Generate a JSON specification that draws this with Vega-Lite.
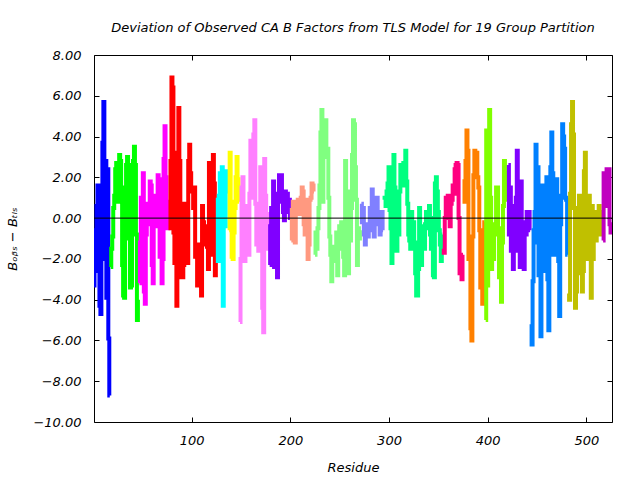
{
  "$schema": "https://vega.github.io/schema/vega-lite/v6.json",
  "width": 518,
  "height": 367,
  "autosize": {"type": "none"},
  "padding": {"left": 94, "top": 55, "right": 28, "bottom": 58},
  "background": "white",
  "config": {
    "view": {"stroke": "black", "strokeWidth": 1},
    "font": "DejaVu Sans",
    "axis": {"domain": false, "grid": false, "tickColor": "black", "tickSize": -5, "labelColor": "black", "labelFontStyle": "italic", "labelFontSize": 13, "titleFontStyle": "italic", "titleFontWeight": "normal", "titleFontSize": 13, "titleColor": "black"}
  },
  "title": {"text": "Deviation of Observed CA B Factors from TLS Model for 19 Group Partition", "fontSize": 13, "fontStyle": "italic", "fontWeight": "normal", "anchor": "middle", "offset": 14, "color": "black"},
  "datasets": {
    "pts": [
      {"r":1,"v":-3.3,"g":"g01"},{"r":2,"v":-2.6,"g":"g01"},{"r":3,"v":-0.6,"g":"g01"},{"r":4,"v":0.6,"g":"g01"},{"r":5,"v":1.6,"g":"g01"},{"r":6,"v":-1.4,"g":"g01"},{"r":7,"v":-4.3,"g":"g01"},{"r":8,"v":-4.7,"g":"g01"},{"r":9,"v":-0.4,"g":"g01"},{"r":10,"v":3.7,"g":"g01"},{"r":11,"v":5.7,"g":"g01"},{"r":12,"v":-2.0,"g":"g01"},{"r":13,"v":2.8,"g":"g01"},{"r":14,"v":-3.9,"g":"g01"},{"r":15,"v":2.4,"g":"g01"},{"r":16,"v":-5.9,"g":"g01"},{"r":17,"v":-8.7,"g":"g01"},
      {"r":18,"v":-2.4,"g":"g02"},{"r":19,"v":-1.5,"g":"g02"},{"r":20,"v":-0.9,"g":"g02"},{"r":21,"v":0.5,"g":"g02"},{"r":22,"v":1.1,"g":"g02"},{"r":23,"v":2.4,"g":"g02"},{"r":24,"v":2.7,"g":"g02"},{"r":25,"v":0.8,"g":"g02"},{"r":26,"v":2.1,"g":"g02"},{"r":27,"v":3.1,"g":"g02"},{"r":28,"v":2.8,"g":"g02"},{"r":29,"v":0.8,"g":"g02"},{"r":30,"v":-2.3,"g":"g02"},{"r":31,"v":-3.8,"g":"g02"},{"r":32,"v":-3.9,"g":"g02"},{"r":33,"v":1.5,"g":"g02"},{"r":34,"v":2.6,"g":"g02"},{"r":35,"v":3.0,"g":"g02"},{"r":36,"v":2.6,"g":"g02"},{"r":37,"v":-1.0,"g":"g02"},{"r":38,"v":-3.4,"g":"g02"},{"r":39,"v":-3.3,"g":"g02"},{"r":40,"v":-0.6,"g":"g02"},{"r":41,"v":2.8,"g":"g02"},{"r":42,"v":3.5,"g":"g02"},{"r":43,"v":2.6,"g":"g02"},{"r":44,"v":-0.8,"g":"g02"},{"r":45,"v":-5.0,"g":"g02"},{"r":46,"v":-4.0,"g":"g02"},
      {"r":47,"v":-3.2,"g":"g03"},{"r":48,"v":-1.2,"g":"g03"},{"r":49,"v":1.0,"g":"g03"},{"r":50,"v":0.9,"g":"g03"},{"r":51,"v":2.2,"g":"g03"},{"r":52,"v":-3.6,"g":"g03"},{"r":53,"v":-4.2,"g":"g03"},{"r":54,"v":-0.8,"g":"g03"},{"r":55,"v":-0.3,"g":"g03"},{"r":56,"v":0.7,"g":"g03"},{"r":57,"v":0.3,"g":"g03"},{"r":58,"v":1.8,"g":"g03"},{"r":59,"v":1.6,"g":"g03"},{"r":60,"v":-2.3,"g":"g03"},{"r":61,"v":-3.2,"g":"g03"},{"r":62,"v":-0.4,"g":"g03"},{"r":63,"v":0.6,"g":"g03"},{"r":64,"v":1.1,"g":"g03"},{"r":65,"v":-0.4,"g":"g03"},{"r":66,"v":2.1,"g":"g03"},{"r":67,"v":1.6,"g":"g03"},{"r":68,"v":-1.9,"g":"g03"},{"r":69,"v":1.9,"g":"g03"},{"r":70,"v":-3.2,"g":"g03"},{"r":71,"v":-2.0,"g":"g03"},{"r":72,"v":2.9,"g":"g03"},{"r":73,"v":4.5,"g":"g03"},{"r":74,"v":2.0,"g":"g03"},{"r":75,"v":0.8,"g":"g03"},{"r":76,"v":-0.5,"g":"g03"},{"r":77,"v":0.2,"g":"g03"},
      {"r":78,"v":2.9,"g":"g04"},{"r":79,"v":-0.5,"g":"g04"},{"r":80,"v":6.9,"g":"g04"},{"r":81,"v":6.4,"g":"g04"},{"r":82,"v":-0.7,"g":"g04"},{"r":83,"v":-2.2,"g":"g04"},{"r":84,"v":0.0,"g":"g04"},{"r":85,"v":-4.3,"g":"g04"},{"r":86,"v":3.2,"g":"g04"},{"r":87,"v":5.4,"g":"g04"},{"r":88,"v":2.8,"g":"g04"},{"r":89,"v":-1.6,"g":"g04"},{"r":90,"v":-2.9,"g":"g04"},{"r":91,"v":-2.9,"g":"g04"},{"r":92,"v":-2.3,"g":"g04"},{"r":93,"v":0.7,"g":"g04"},{"r":94,"v":-1.3,"g":"g04"},{"r":95,"v":0.5,"g":"g04"},{"r":96,"v":-2.2,"g":"g04"},{"r":97,"v":2.8,"g":"g04"},{"r":98,"v":3.6,"g":"g04"},{"r":99,"v":2.2,"g":"g04"},{"r":100,"v":1.3,"g":"g04"},{"r":101,"v":1.5,"g":"g04"},{"r":102,"v":0.5,"g":"g04"},{"r":103,"v":1.5,"g":"g04"},{"r":104,"v":-1.9,"g":"g04"},{"r":105,"v":-1.8,"g":"g04"},{"r":106,"v":-3.3,"g":"g04"},{"r":107,"v":-3.0,"g":"g04"},{"r":108,"v":-1.3,"g":"g04"},{"r":109,"v":-2.2,"g":"g04"},{"r":110,"v":-3.8,"g":"g04"},{"r":111,"v":0.6,"g":"g04"},{"r":112,"v":-0.2,"g":"g04"},{"r":113,"v":-1.3,"g":"g04"},{"r":114,"v":-0.5,"g":"g04"},{"r":115,"v":-0.4,"g":"g04"},{"r":116,"v":-1.4,"g":"g04"},{"r":117,"v":-2.5,"g":"g04"},{"r":118,"v":2.7,"g":"g04"},{"r":119,"v":2.5,"g":"g04"},{"r":120,"v":-1.8,"g":"g04"},{"r":121,"v":-0.4,"g":"g04"},{"r":122,"v":3.1,"g":"g04"},{"r":123,"v":1.7,"g":"g04"},{"r":124,"v":-2.8,"g":"g04"},{"r":125,"v":-0.5,"g":"g04"},
      {"r":126,"v":1.0,"g":"g05"},{"r":127,"v":-2.1,"g":"g05"},{"r":128,"v":1.1,"g":"g05"},{"r":129,"v":2.2,"g":"g05"},{"r":130,"v":-0.6,"g":"g05"},{"r":131,"v":2.5,"g":"g05"},{"r":132,"v":-4.3,"g":"g05"},{"r":133,"v":1.5,"g":"g05"},{"r":134,"v":-0.4,"g":"g05"},{"r":135,"v":1.3,"g":"g05"},{"r":136,"v":2.3,"g":"g05"},{"r":137,"v":1.5,"g":"g05"},
      {"r":138,"v":-0.6,"g":"g06"},{"r":139,"v":3.2,"g":"g06"},{"r":140,"v":0.8,"g":"g06"},{"r":141,"v":-1.9,"g":"g06"},{"r":142,"v":-2.0,"g":"g06"},{"r":143,"v":-0.7,"g":"g06"},{"r":144,"v":0.5,"g":"g06"},{"r":145,"v":2.0,"g":"g06"},{"r":146,"v":3.0,"g":"g06"},{"r":147,"v":1.9,"g":"g06"},{"r":148,"v":0.8,"g":"g06"},
      {"r":149,"v":-5.1,"g":"g07"},{"r":150,"v":-2.0,"g":"g07"},{"r":151,"v":1.5,"g":"g07"},{"r":152,"v":2.0,"g":"g07"},{"r":153,"v":0.4,"g":"g07"},{"r":154,"v":-2.1,"g":"g07"},{"r":155,"v":-1.8,"g":"g07"},{"r":156,"v":-1.3,"g":"g07"},{"r":157,"v":0.6,"g":"g07"},{"r":158,"v":-1.8,"g":"g07"},{"r":159,"v":1.2,"g":"g07"},{"r":160,"v":3.8,"g":"g07"},{"r":161,"v":3.8,"g":"g07"},{"r":162,"v":1.0,"g":"g07"},{"r":163,"v":4.1,"g":"g07"},{"r":164,"v":4.8,"g":"g07"},{"r":165,"v":0.7,"g":"g07"},{"r":166,"v":-1.3,"g":"g07"},{"r":167,"v":-0.8,"g":"g07"},{"r":168,"v":-1.6,"g":"g07"},{"r":169,"v":-1.0,"g":"g07"},{"r":170,"v":2.5,"g":"g07"},{"r":171,"v":-1.5,"g":"g07"},{"r":172,"v":-4.4,"g":"g07"},{"r":173,"v":-5.6,"g":"g07"},{"r":174,"v":2.9,"g":"g07"},{"r":175,"v":1.1,"g":"g07"},{"r":176,"v":-1.5,"g":"g07"},{"r":177,"v":0.2,"g":"g07"},{"r":178,"v":-0.3,"g":"g07"},
      {"r":179,"v":-2.3,"g":"g08"},{"r":180,"v":-0.4,"g":"g08"},{"r":181,"v":0.5,"g":"g08"},{"r":182,"v":-0.2,"g":"g08"},{"r":183,"v":1.8,"g":"g08"},{"r":184,"v":-2.4,"g":"g08"},{"r":185,"v":-1.6,"g":"g08"},{"r":186,"v":0.9,"g":"g08"},{"r":187,"v":-2.9,"g":"g08"},{"r":188,"v":1.2,"g":"g08"},{"r":189,"v":2.1,"g":"g08"},{"r":190,"v":1.7,"g":"g08"},{"r":191,"v":2.1,"g":"g08"},{"r":192,"v":0.8,"g":"g08"},{"r":193,"v":0.3,"g":"g08"},{"r":194,"v":-0.1,"g":"g08"},{"r":195,"v":1.3,"g":"g08"},{"r":196,"v":0.6,"g":"g08"},{"r":197,"v":1.2,"g":"g08"},{"r":198,"v":0.3,"g":"g08"},{"r":199,"v":0.9,"g":"g08"},{"r":200,"v":0.0,"g":"g08"},
      {"r":201,"v":-1.1,"g":"g09"},{"r":202,"v":0.4,"g":"g09"},{"r":203,"v":0.8,"g":"g09"},{"r":204,"v":-0.5,"g":"g09"},{"r":205,"v":-1.2,"g":"g09"},{"r":206,"v":0.2,"g":"g09"},{"r":207,"v":0.5,"g":"g09"},{"r":208,"v":0.9,"g":"g09"},{"r":209,"v":0.2,"g":"g09"},{"r":210,"v":0.6,"g":"g09"},{"r":211,"v":1.0,"g":"g09"},{"r":212,"v":1.5,"g":"g09"},{"r":213,"v":1.3,"g":"g09"},{"r":214,"v":-0.3,"g":"g09"},{"r":215,"v":-0.8,"g":"g09"},{"r":216,"v":0.9,"g":"g09"},{"r":217,"v":-0.3,"g":"g09"},{"r":218,"v":-2.0,"g":"g09"},{"r":219,"v":-1.3,"g":"g09"},{"r":220,"v":0.9,"g":"g09"},{"r":221,"v":1.0,"g":"g09"},{"r":222,"v":1.7,"g":"g09"},{"r":223,"v":1.6,"g":"g09"},{"r":224,"v":1.3,"g":"g09"},
      {"r":225,"v":-1.8,"g":"g10"},{"r":226,"v":-0.7,"g":"g10"},{"r":227,"v":-1.5,"g":"g10"},{"r":228,"v":-0.5,"g":"g10"},{"r":229,"v":0.5,"g":"g10"},{"r":230,"v":1.6,"g":"g10"},{"r":231,"v":4.2,"g":"g10"},{"r":232,"v":5.3,"g":"g10"},{"r":233,"v":0.8,"g":"g10"},{"r":234,"v":4.7,"g":"g10"},{"r":235,"v":4.3,"g":"g10"},{"r":236,"v":4.8,"g":"g10"},{"r":237,"v":3.0,"g":"g10"},{"r":238,"v":3.4,"g":"g10"},{"r":239,"v":1.0,"g":"g10"},{"r":240,"v":-0.9,"g":"g10"},{"r":241,"v":-1.8,"g":"g10"},{"r":242,"v":-3.1,"g":"g10"},{"r":243,"v":-1.9,"g":"g10"},{"r":244,"v":-2.1,"g":"g10"},{"r":245,"v":-1.4,"g":"g10"},{"r":246,"v":-2.0,"g":"g10"},{"r":247,"v":-0.7,"g":"g10"},{"r":248,"v":-2.8,"g":"g10"},{"r":249,"v":-1.5,"g":"g10"},{"r":250,"v":-0.4,"g":"g10"},{"r":251,"v":-0.6,"g":"g10"},{"r":252,"v":-0.2,"g":"g10"},{"r":253,"v":-0.8,"g":"g10"},{"r":254,"v":-1.9,"g":"g10"},{"r":255,"v":-2.8,"g":"g10"},{"r":256,"v":2.8,"g":"g10"},{"r":257,"v":-1.5,"g":"g10"},{"r":258,"v":1.3,"g":"g10"},{"r":259,"v":-2.7,"g":"g10"},{"r":260,"v":1.3,"g":"g10"},{"r":261,"v":-1.1,"g":"g10"},{"r":262,"v":0.5,"g":"g10"},{"r":263,"v":3.1,"g":"g10"},{"r":264,"v":4.8,"g":"g10"},{"r":265,"v":4.6,"g":"g10"},{"r":266,"v":2.5,"g":"g10"},{"r":267,"v":0.9,"g":"g10"},{"r":268,"v":-2.3,"g":"g10"},{"r":269,"v":-0.5,"g":"g10"},{"r":270,"v":-1.0,"g":"g10"},{"r":271,"v":-0.6,"g":"g10"},
      {"r":272,"v":0.7,"g":"g11"},{"r":273,"v":-0.2,"g":"g11"},{"r":274,"v":0.5,"g":"g11"},{"r":275,"v":-0.8,"g":"g11"},{"r":276,"v":-1.3,"g":"g11"},{"r":277,"v":-0.5,"g":"g11"},{"r":278,"v":-0.3,"g":"g11"},{"r":279,"v":-0.9,"g":"g11"},{"r":280,"v":-0.6,"g":"g11"},{"r":281,"v":0.5,"g":"g11"},{"r":282,"v":0.2,"g":"g11"},{"r":283,"v":1.4,"g":"g11"},{"r":284,"v":0.8,"g":"g11"},{"r":285,"v":-0.9,"g":"g11"},{"r":286,"v":-0.2,"g":"g11"},{"r":287,"v":0.6,"g":"g11"},{"r":288,"v":1.0,"g":"g11"},{"r":289,"v":-0.3,"g":"g11"},{"r":290,"v":0.3,"g":"g11"},{"r":291,"v":-0.8,"g":"g11"},{"r":292,"v":-0.1,"g":"g11"},{"r":293,"v":0.3,"g":"g11"},{"r":294,"v":-0.6,"g":"g11"},
      {"r":295,"v":0.9,"g":"g12"},{"r":296,"v":1.0,"g":"g12"},{"r":297,"v":0.6,"g":"g12"},{"r":298,"v":1.3,"g":"g12"},{"r":299,"v":1.7,"g":"g12"},{"r":300,"v":2.5,"g":"g12"},{"r":301,"v":0.4,"g":"g12"},{"r":302,"v":-0.5,"g":"g12"},{"r":303,"v":-2.2,"g":"g12"},{"r":304,"v":1.4,"g":"g12"},{"r":305,"v":3.1,"g":"g12"},{"r":306,"v":1.5,"g":"g12"},{"r":307,"v":-1.4,"g":"g12"},{"r":308,"v":-1.6,"g":"g12"},{"r":309,"v":-0.6,"g":"g12"},{"r":310,"v":-0.8,"g":"g12"},{"r":311,"v":1.3,"g":"g12"},{"r":312,"v":2.6,"g":"g12"},{"r":313,"v":2.4,"g":"g12"},{"r":314,"v":2.6,"g":"g12"},{"r":315,"v":2.7,"g":"g12"},{"r":316,"v":1.6,"g":"g12"},{"r":317,"v":3.3,"g":"g12"},{"r":318,"v":1.8,"g":"g12"},{"r":319,"v":0.7,"g":"g12"},{"r":320,"v":-0.8,"g":"g12"},{"r":321,"v":-1.1,"g":"g12"},{"r":322,"v":-1.5,"g":"g12"},{"r":323,"v":0.3,"g":"g12"},{"r":324,"v":-0.9,"g":"g12"},{"r":325,"v":-0.2,"g":"g12"},{"r":326,"v":-1.2,"g":"g12"},{"r":327,"v":-2.7,"g":"g12"},{"r":328,"v":-3.8,"g":"g12"},{"r":329,"v":-3.8,"g":"g12"},{"r":330,"v":-2.5,"g":"g12"},{"r":331,"v":0.5,"g":"g12"},{"r":332,"v":-0.9,"g":"g12"},{"r":333,"v":-2.3,"g":"g12"},{"r":334,"v":-0.4,"g":"g12"},{"r":335,"v":-0.8,"g":"g12"},{"r":336,"v":-1.5,"g":"g12"},{"r":337,"v":-0.3,"g":"g12"},{"r":338,"v":0.3,"g":"g12"},{"r":339,"v":-0.5,"g":"g12"},{"r":340,"v":-0.2,"g":"g12"},{"r":341,"v":0.6,"g":"g12"},{"r":342,"v":-0.8,"g":"g12"},{"r":343,"v":-1.5,"g":"g12"},{"r":344,"v":0.0,"g":"g12"},{"r":345,"v":-2.8,"g":"g12"},{"r":346,"v":-2.9,"g":"g12"},{"r":347,"v":1.7,"g":"g12"},{"r":348,"v":2.0,"g":"g12"},{"r":349,"v":1.3,"g":"g12"},{"r":350,"v":0.3,"g":"g12"},{"r":351,"v":-0.6,"g":"g12"},{"r":352,"v":-1.3,"g":"g12"},{"r":353,"v":-2.1,"g":"g12"},{"r":354,"v":-0.8,"g":"g12"},
      {"r":355,"v":-1.5,"g":"g13"},{"r":356,"v":-1.7,"g":"g13"},{"r":357,"v":0.0,"g":"g13"},{"r":358,"v":1.0,"g":"g13"},{"r":359,"v":0.9,"g":"g13"},{"r":360,"v":1.1,"g":"g13"},{"r":361,"v":0.4,"g":"g13"},{"r":362,"v":-0.4,"g":"g13"},{"r":363,"v":0.7,"g":"g13"},{"r":364,"v":0.9,"g":"g13"},{"r":365,"v":1.6,"g":"g13"},{"r":366,"v":1.2,"g":"g13"},{"r":367,"v":2.4,"g":"g13"},{"r":368,"v":2.6,"g":"g13"},{"r":369,"v":2.7,"g":"g13"},{"r":370,"v":2.6,"g":"g13"},{"r":371,"v":0.0,"g":"g13"},{"r":372,"v":-2.7,"g":"g13"},{"r":373,"v":-1.9,"g":"g13"},{"r":374,"v":-3.0,"g":"g13"},{"r":375,"v":-1.8,"g":"g13"},
      {"r":376,"v":1.9,"g":"g14"},{"r":377,"v":0.8,"g":"g14"},{"r":378,"v":2.8,"g":"g14"},{"r":379,"v":4.3,"g":"g14"},{"r":380,"v":3.3,"g":"g14"},{"r":381,"v":-2.0,"g":"g14"},{"r":382,"v":-1.5,"g":"g14"},{"r":383,"v":-5.4,"g":"g14"},{"r":384,"v":-6.0,"g":"g14"},{"r":385,"v":-0.9,"g":"g14"},{"r":386,"v":2.1,"g":"g14"},{"r":387,"v":3.3,"g":"g14"},{"r":388,"v":3.0,"g":"g14"},{"r":389,"v":3.2,"g":"g14"},{"r":390,"v":2.0,"g":"g14"},{"r":391,"v":1.5,"g":"g14"},{"r":392,"v":-0.6,"g":"g14"},{"r":393,"v":-3.4,"g":"g14"},{"r":394,"v":-1.6,"g":"g14"},{"r":395,"v":-4.2,"g":"g14"},{"r":396,"v":-2.5,"g":"g14"},{"r":397,"v":-0.2,"g":"g14"},
      {"r":398,"v":-5.0,"g":"g15"},{"r":399,"v":4.3,"g":"g15"},{"r":400,"v":-3.3,"g":"g15"},{"r":401,"v":3.2,"g":"g15"},{"r":402,"v":5.3,"g":"g15"},{"r":403,"v":1.0,"g":"g15"},{"r":404,"v":-2.5,"g":"g15"},{"r":405,"v":-1.1,"g":"g15"},{"r":406,"v":-2.0,"g":"g15"},{"r":407,"v":-0.3,"g":"g15"},{"r":408,"v":-0.6,"g":"g15"},{"r":409,"v":1.5,"g":"g15"},{"r":410,"v":1.5,"g":"g15"},{"r":411,"v":-0.8,"g":"g15"},{"r":412,"v":-2.9,"g":"g15"},{"r":413,"v":-0.5,"g":"g15"},{"r":414,"v":-4.1,"g":"g15"},{"r":415,"v":-1.2,"g":"g15"},{"r":416,"v":0.6,"g":"g15"},{"r":417,"v":2.8,"g":"g15"},{"r":418,"v":2.2,"g":"g15"},{"r":419,"v":0.9,"g":"g15"},{"r":420,"v":1.5,"g":"g15"},
      {"r":421,"v":2.6,"g":"g16"},{"r":422,"v":-0.8,"g":"g16"},{"r":423,"v":1.5,"g":"g16"},{"r":424,"v":-1.6,"g":"g16"},{"r":425,"v":0.6,"g":"g16"},{"r":426,"v":-2.5,"g":"g16"},{"r":427,"v":-0.3,"g":"g16"},{"r":428,"v":-0.9,"g":"g16"},{"r":429,"v":1.0,"g":"g16"},{"r":430,"v":3.3,"g":"g16"},{"r":431,"v":-1.6,"g":"g16"},{"r":432,"v":1.0,"g":"g16"},{"r":433,"v":-2.4,"g":"g16"},{"r":434,"v":1.8,"g":"g16"},{"r":435,"v":-0.5,"g":"g16"},{"r":436,"v":-1.1,"g":"g16"},{"r":437,"v":-2.5,"g":"g16"},{"r":438,"v":-0.2,"g":"g16"},{"r":439,"v":-0.8,"g":"g16"},{"r":440,"v":0.3,"g":"g16"},{"r":441,"v":-0.5,"g":"g16"},{"r":442,"v":0.3,"g":"g16"},{"r":443,"v":-0.6,"g":"g16"},
      {"r":444,"v":-5.2,"g":"g17"},{"r":445,"v":-6.2,"g":"g17"},{"r":446,"v":-3.1,"g":"g17"},{"r":447,"v":-0.6,"g":"g17"},{"r":448,"v":0.3,"g":"g17"},{"r":449,"v":3.6,"g":"g17"},{"r":450,"v":-1.2,"g":"g17"},{"r":451,"v":2.5,"g":"g17"},{"r":452,"v":-2.8,"g":"g17"},{"r":453,"v":0.6,"g":"g17"},{"r":454,"v":-5.8,"g":"g17"},{"r":455,"v":-2.6,"g":"g17"},{"r":456,"v":1.6,"g":"g17"},{"r":457,"v":-2.6,"g":"g17"},{"r":458,"v":1.1,"g":"g17"},{"r":459,"v":-0.7,"g":"g17"},{"r":460,"v":2.0,"g":"g17"},{"r":461,"v":-3.0,"g":"g17"},{"r":462,"v":-5.5,"g":"g17"},{"r":463,"v":-0.7,"g":"g17"},{"r":464,"v":2.5,"g":"g17"},{"r":465,"v":4.2,"g":"g17"},{"r":466,"v":2.2,"g":"g17"},{"r":467,"v":-1.8,"g":"g17"},{"r":468,"v":1.6,"g":"g17"},{"r":469,"v":0.0,"g":"g17"},{"r":470,"v":1.9,"g":"g17"},{"r":471,"v":0.8,"g":"g17"},{"r":472,"v":-2.1,"g":"g17"},{"r":473,"v":-4.8,"g":"g17"},{"r":474,"v":-0.3,"g":"g17"},{"r":475,"v":1.1,"g":"g17"},{"r":476,"v":4.6,"g":"g17"},{"r":477,"v":4.0,"g":"g17"},{"r":478,"v":3.4,"g":"g17"},{"r":479,"v":1.0,"g":"g17"},{"r":480,"v":0.9,"g":"g17"},{"r":481,"v":-1.8,"g":"g17"},
      {"r":482,"v":-3.7,"g":"g18"},{"r":483,"v":-4.0,"g":"g18"},{"r":484,"v":1.2,"g":"g18"},{"r":485,"v":4.6,"g":"g18"},{"r":486,"v":5.7,"g":"g18"},{"r":487,"v":4.1,"g":"g18"},{"r":488,"v":0.5,"g":"g18"},{"r":489,"v":-4.4,"g":"g18"},{"r":490,"v":-3.6,"g":"g18"},{"r":491,"v":-0.2,"g":"g18"},{"r":492,"v":0.2,"g":"g18"},{"r":493,"v":1.1,"g":"g18"},{"r":494,"v":-2.7,"g":"g18"},{"r":495,"v":0.0,"g":"g18"},{"r":496,"v":-3.6,"g":"g18"},{"r":497,"v":-2.6,"g":"g18"},{"r":498,"v":2.3,"g":"g18"},{"r":499,"v":3.2,"g":"g18"},{"r":500,"v":-0.5,"g":"g18"},{"r":501,"v":0.0,"g":"g18"},{"r":502,"v":-2.0,"g":"g18"},{"r":503,"v":1.1,"g":"g18"},{"r":504,"v":0.5,"g":"g18"},{"r":505,"v":-3.9,"g":"g18"},{"r":506,"v":0.6,"g":"g18"},{"r":507,"v":-2.0,"g":"g18"},{"r":508,"v":0.3,"g":"g18"},{"r":509,"v":-0.2,"g":"g18"},{"r":510,"v":-1.1,"g":"g18"},{"r":511,"v":0.3,"g":"g18"},{"r":512,"v":-0.8,"g":"g18"},{"r":513,"v":0.6,"g":"g18"},{"r":514,"v":-0.8,"g":"g18"},{"r":515,"v":0.3,"g":"g18"},{"r":516,"v":-0.3,"g":"g18"},
      {"r":517,"v":-1.1,"g":"g19"},{"r":518,"v":2.2,"g":"g19"},{"r":519,"v":1.7,"g":"g19"},{"r":520,"v":0.6,"g":"g19"},{"r":521,"v":2.4,"g":"g19"},{"r":522,"v":1.7,"g":"g19"},{"r":523,"v":2.4,"g":"g19"},{"r":524,"v":-0.3,"g":"g19"},{"r":525,"v":-0.7,"g":"g19"},{"r":526,"v":-0.6,"g":"g19"}
    ]
  },
  "layer": [
    {
      "data": {"name": "pts"},
      "mark": {"type": "line", "interpolate": "step", "strokeWidth": 4, "clip": true},
      "encoding": {
        "x": {"field": "r", "type": "quantitative", "scale": {"domain": [1, 526], "nice": false, "zero": false},
              "axis": {"orient": "bottom", "values": [100, 200, 300, 400, 500], "format": "d", "title": "Residue", "labelPadding": 17, "titlePadding": 14}},
        "y": {"field": "v", "type": "quantitative", "scale": {"domain": [-10, 8], "nice": false, "zero": false},
              "axis": {"orient": "left", "values": [-10, -8, -6, -4, -2, 0, 2, 4, 6, 8], "format": ".2f", "title": "Bₒᵦₛ − Bₜₗₛ", "labelPadding": 18, "titlePadding": 13}},
        "color": {"field": "g", "type": "nominal", "legend": null,
                  "scale": {"domain": ["g01","g02","g03","g04","g05","g06","g07","g08","g09","g10","g11","g12","g13","g14","g15","g16","g17","g18","g19"],
                            "range": ["#0000ff","#00ff00","#ff00ff","#ff0000","#00ffff","#ffff00","#ff80ff","#8000ff","#ff9980","#80ff80","#8080ff","#00ff80","#ff0080","#ff8000","#80ff00","#8000ff","#0080ff","#c0c000","#c000c0"]}}
      }
    },
    {
      "data": {"values": [{"v": 0}]},
      "mark": {"type": "rule", "color": "black", "strokeWidth": 1},
      "encoding": {
        "x": {"datum": 1, "type": "quantitative", "axis": {"orient": "top", "values": [100, 200, 300, 400, 500], "labels": false, "title": null}},
        "x2": {"datum": 526},
        "y": {"field": "v", "type": "quantitative", "axis": {"orient": "right", "values": [-10, -8, -6, -4, -2, 0, 2, 4, 6, 8], "labels": false, "title": null}}
      }
    }
  ],
  "resolve": {"axis": {"x": "independent", "y": "independent"}}
}
